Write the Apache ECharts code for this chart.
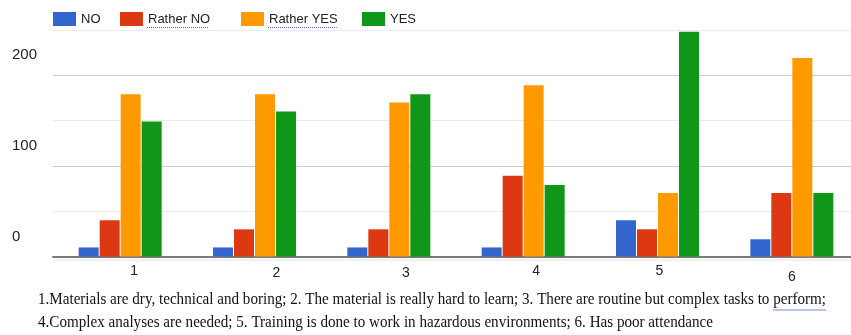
<!DOCTYPE html>
<html>
<head>
<meta charset="utf-8">
<script src="https://cdn.jsdelivr.net/npm/echarts@6/dist/echarts.min.js"></script>
<style>
  html, body { margin: 0; padding: 0; background: #fff; }
  #chart { width: 851px; height: 335px; }
</style>
</head>
<body>
<div id="chart"></div>
<script>
// Survey answers per statement (1..6)
const categories = ['1', '2', '3', '4', '5', '6'];
const seriesNames = ['NO', 'Rather NO', 'Rather YES', 'YES'];
const noValues = [10, 10, 10, 10, 40, 19];
const ratherNoValues = [40, 30, 30, 89, 30, 70];
const ratherYesValues = [179, 179, 170, 189, 70, 219];
const yesValues = [149, 160, 179, 79, 248, 70];
const yTickLabels = [0, 100, 200];
const noteLines = [
  '1.Materials are dry, technical and boring; 2. The material is really hard to learn; 3. There are routine but complex tasks to perform;',
  '4.Complex analyses are needed; 5. Training is done to work in hazardous environments; 6. Has poor attendance'
];

// Styling
const colors = ['#3366cc', '#dc3912', '#ff9900', '#109618'];
const sansFont = '"Liberation Sans", Arial, sans-serif';
const serifFont = '"Liberation Serif", "Times New Roman", serif';
const legendLefts = [53, 120, 241, 362];
const catLabelShiftX = [14, 22, 17, 13, 2, 0];
const catLabelShiftY = [-1, 1, 1, 0, 0, 3];

const chart = echarts.init(document.getElementById('chart'), null, { renderer: 'canvas' });

const valueSets = [noValues, ratherNoValues, ratherYesValues, yesValues];
const series = seriesNames.map((name, i) => ({
  name,
  type: 'bar',
  data: valueSets[i],
  barWidth: 20,
  barGap: '5%',
  itemStyle: { color: colors[i] },
  emphasis: { disabled: true }
}));

// Category labels sit slightly off their band centres
const catRich = {};
categories.forEach((c, i) => {
  const dx = catLabelShiftX[i], dy = catLabelShiftY[i];
  catRich['c' + i] = {
    fontSize: 14, fontFamily: sansFont, color: '#222',
    padding: [Math.max(dy, 0) * 2, Math.max(-dx, 0) * 2, Math.max(-dy, 0) * 2, Math.max(dx, 0) * 2]
  };
});

// Text measurement helper
const measureCtx = document.createElement('canvas').getContext('2d');
function textWidth(txt, font) { measureCtx.font = font; return measureCtx.measureText(txt).width; }

// Footnote text, squeezed to the width of the plot
const noteSize = 16;
const noteFont = noteSize + 'px ' + serifFont;
const noteScale = 788 / textWidth(noteLines[0], noteFont);

// One legend per series so each entry keeps its own slot
const legendSize = 13;
const legends = seriesNames.map((n, i) => ({
  left: legendLefts[i],
  top: 12,
  padding: 0,
  itemWidth: 23,
  itemHeight: 14,
  itemTextGap: 4,
  icon: 'rect',
  selectedMode: false,
  textStyle: { fontSize: legendSize, fontFamily: sansFont, color: '#222' },
  data: [n]
}));

// Dotted spell-check marks under the two-word legend entries
const legendMarks = [1, 2].map(i => {
  const x0 = legendLefts[i] + 27;
  const w = textWidth(seriesNames[i], legendSize + 'px ' + sansFont);
  return {
    type: 'line',
    shape: { x1: x0, y1: 27.5, x2: x0 + w, y2: 27.5 },
    style: { stroke: '#5b5bd6', lineWidth: 1, lineDash: [1, 1] },
    silent: true
  };
});

// Wavy mark under the last word of the first footnote line
const lastWord = 'perform;';
const lwStart = 38 + textWidth(noteLines[0].slice(0, noteLines[0].length - lastWord.length), noteFont) * noteScale;
const lwEnd = 38 + textWidth(noteLines[0], noteFont) * noteScale;

chart.setOption({
  animation: false,
  backgroundColor: '#fff',
  color: colors,
  legend: legends,
  grid: { left: 53, top: 30, width: 806, height: 226.5, containLabel: false, outerBoundsMode: 'none' },
  xAxis: {
    type: 'category',
    data: categories,
    axisLine: { lineStyle: { color: '#7a7a7a', width: 2 } },
    axisTick: { show: false },
    axisLabel: {
      margin: 8,
      formatter: (v, i) => '{c' + i + '|' + v + '}',
      rich: catRich
    },
    splitLine: { show: false }
  },
  yAxis: {
    type: 'value',
    min: 0,
    max: 250,
    interval: 50,
    axisLine: { show: false },
    axisTick: { show: false },
    splitLine: { lineStyle: { color: ['#cdcdcd', '#ebebeb'], width: 1 } },
    axisLabel: {
      align: 'left',
      margin: 41,
      formatter: v => (yTickLabels.indexOf(v) >= 0 ? '{t|' + v + '}' : ''),
      rich: {
        t: { fontSize: 15, fontFamily: sansFont, color: '#222', padding: [0, 0, 40, 0] }
      }
    }
  },
  series,
  graphic: [
    {
      type: 'line',
      shape: { x1: 53, y1: 260, x2: 851, y2: 260 },
      style: { stroke: '#e4e4e4', lineWidth: 1 },
      silent: true
    },
    ...legendMarks,
    {
      type: 'line',
      shape: { x1: lwStart, y1: 310, x2: lwEnd, y2: 310 },
      style: { stroke: '#6b8fd6', lineWidth: 1 },
      silent: true
    },
    ...noteLines.map((t, i) => ({
      type: 'text',
      x: 38,
      y: 300 + i * 23,
      scaleX: noteScale,
      style: {
        text: t,
        fontSize: noteSize,
        fontFamily: serifFont,
        fill: '#111',
        verticalAlign: 'middle'
      },
      silent: true
    }))
  ]
});
</script>
</body>
</html>
